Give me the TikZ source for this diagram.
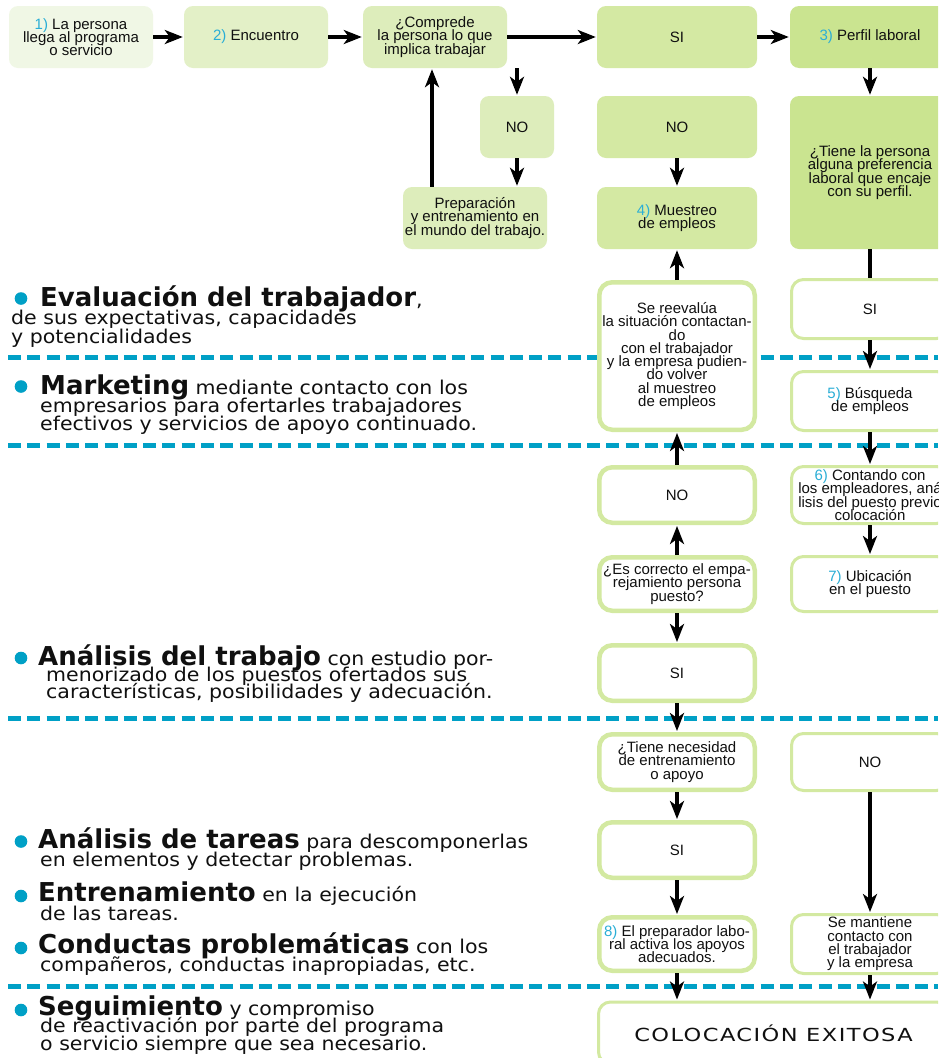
\documentclass[tikz,border=0pt]{standalone}
\usepackage{fontspec}
\setmainfont{Liberation Sans}
\newfontfamily\headfont{DejaVu Sans}
\newfontfamily\bodyfont[FakeStretch=1.08]{DejaVu Sans}
\newfontfamily\capsfont[FakeStretch=1.25,LetterSpace=8]{DejaVu Sans}
\usetikzlibrary{arrows.meta}
\definecolor{lite0}{HTML}{F0F7E5}
\definecolor{lite1}{HTML}{E3F0C7}
\definecolor{lite2}{HTML}{DDEDBB}
\definecolor{lite3}{HTML}{D4E9A3}
\definecolor{lite4}{HTML}{CAE490}
\definecolor{edge}{HTML}{D3E9A1}
\definecolor{dashblue}{HTML}{00A0C6}
\definecolor{numblue}{HTML}{2AAED6}
\definecolor{ink}{HTML}{101010}
\def\num#1{\textcolor{numblue}{#1}}
\def\hd#1{{\headfont\bfseries\fontsize{26pt}{26pt}\selectfont #1}}
\def\boxtxt{\fontsize{15pt}{13.3pt}\selectfont\lineskiplimit=-20pt}
\def\itemdot(#1){\fill[dashblue] (#1) circle (6.3);}
\tikzset{
	fbox/.style={rounded corners=9pt, inner sep=0pt, align=center, font=\boxtxt, text=ink, minimum height=62pt},
	obox/.style={fbox, fill=white, draw=edge, line width=4.5pt, rounded corners=13pt, minimum width=155.5pt},
	tbox/.style={fbox, fill=white, draw=edge, line width=3pt, rounded corners=12pt, minimum width=157pt},
	txt/.style={anchor=base west, inner sep=0pt, text=ink, font=\bodyfont\fontsize{19pt}{19pt}\selectfont},
	arr/.style={line width=3.2pt, -{Stealth[length=18pt,width=14pt,inset=5pt]}, shorten >=1pt},
	sepline/.style={dashblue, line width=5pt, dash pattern=on 13pt off 6.3pt}
}

\begin{document}
\begin{tikzpicture}[x=1pt, y=-1pt]
			%%%%% START %%%%%
			\useasboundingbox (0,0) rectangle (938,1058);
			\clip (0,0) rectangle (938,1058);
			\fill[white] (0,0) rectangle (938,1058);
			
			\draw[sepline] (8,357) -- (938,357);
			\draw[sepline] (8,445) -- (938,445);
			\draw[sepline] (8,718) -- (938,718);
			\draw[sepline] (8,986) -- (938,986);
			
			\node[fbox, fill=lite0, minimum width=144pt] (persona) at (81,37) {\num{1)} La persona\\llega al programa\\o servicio};
			\node[fbox, fill=lite1, minimum width=144pt] (encuentro) at (256,37) {\num{2)} Encuentro};
			\node[fbox, fill=lite2, minimum width=144pt] (comprende) at (435,37) {¿Comprede\\la persona lo que\\implica trabajar};
			\node[fbox, fill=lite3, minimum width=160pt] (siA) at (677,37) {SI};
			\node[fbox, fill=lite4, minimum width=160pt] (perfil) at (870,37) {\num{3)} Perfil laboral};
			
			\node[fbox, fill=lite2, minimum width=74pt] (noA) at (517,127) {NO};
			\node[fbox, fill=lite2, minimum width=144pt] (prepara) at (475,218) {Preparación\\y entrenamiento en\\el mundo del trabajo.};
			\node[fbox, fill=lite3, minimum width=160pt] (noB) at (677,127) {NO};
			\node[fbox, fill=lite3, minimum width=160pt] (muestreo) at (677,218) {\num{4)} Muestreo\\de empleos};
			\node[fbox, fill=lite4, minimum width=160pt, minimum height=153pt] (tiene) at (870,172.5) {¿Tiene la persona\\alguna preferencia\\laboral que encaje\\con su perfil.};
			
			\node[obox, minimum height=147.5pt] (reevalua) at (677,356) {Se reevalúa\\la situación contactan-\\do\\con el trabajador\\y la empresa pudien-\\do volver\\al muestreo\\de empleos};
			\node[obox, minimum height=55.5pt] (noC) at (677,495) {NO};
			\node[obox, minimum height=53.5pt] (correcto) at (677,584) {¿Es correcto el empa-\\rejamiento persona\\puesto?};
			\node[obox, minimum height=55.5pt] (siC) at (677,673) {SI};
			\node[obox, minimum height=55.5pt] (necesidad) at (677,762) {¿Tiene necesidad\\de entrenamiento\\o apoyo};
			\node[obox, minimum height=55.5pt] (siD) at (677,850) {SI};
			\node[obox, minimum height=53.5pt] (preparador) at (677,944) {\num{8)} El preparador labo-\\ral activa los apoyos\\adecuados.};
			
			\node[tbox, minimum height=59pt] (siB) at (870,309) {SI};
			\node[tbox, minimum height=59pt] (busqueda) at (870,401) {\num{5)} Búsqueda\\de empleos};
			\node[tbox, minimum height=57pt] (contando) at (870,495) {\num{6)} Contando con\\los empleadores, aná\\lisis del puesto previo\\colocación};
			\node[tbox, minimum height=55pt] (ubicacion) at (870,584) {\num{7)} Ubicación\\en el puesto};
			\node[tbox, minimum height=57pt] (noD) at (870,762) {NO};
			\node[tbox, minimum height=59pt] (mantiene) at (870,944) {Se mantiene\\contacto con\\el trabajador\\y la empresa};
			\node[tbox, minimum width=350pt, minimum height=62pt, font=\capsfont\fontsize{18pt}{18pt}\selectfont] (exito) at (773.5,1033) {COLOCACIÓN EXITOSA};
			
			\draw[arr] (persona) -- (encuentro);
			\draw[arr] (encuentro) -- (comprende);
			\draw[arr] (comprende) -- (siA);
			\draw[arr] (siA) -- (perfil);
			\draw[arr] (noA.north |- comprende.south) -- (noA);
			\draw[arr] (noA) -- (noA.south |- prepara.north);
			\draw[arr] ([xshift=-43pt]prepara.north) -- ([xshift=-43pt]prepara.north |- comprende.south);
			\draw[arr] (noB) -- (muestreo);
			\draw[arr] (perfil) -- (tiene);
			\draw[line width=3.2pt] (tiene) -- (siB);
			
			\draw[arr] (reevalua) -- (muestreo);
			\draw[arr] (noC) -- (reevalua);
			\draw[arr] (correcto) -- (noC);
			\draw[arr] (correcto) -- (siC);
			\draw[arr] (siC) -- (necesidad);
			\draw[arr] (necesidad) -- (siD);
			\draw[arr] (siD) -- (preparador);
			\draw[arr] (preparador) -- (preparador |- exito.north);
			
			\draw[arr] (siB) -- (busqueda);
			\draw[arr] (busqueda) -- (contando);
			\draw[arr] (contando) -- (ubicacion);
			\draw[arr] (noD) -- (mantiene);
			\draw[arr] (mantiene) -- (mantiene |- exito.north);
			
			\itemdot(21,298.5)
			\node[txt] (evalua) at (40,306) {\hd{Evaluación del trabajador},};
			\node[txt] (evaluaB) at (11,324.5) {de sus expectativas, capacidades};
			\node[txt] (evaluaC) at (11,343) {y potencialidades};
			
			\itemdot(21,386.5)
			\node[txt] (marketing) at (40,394) {\hd{Marketing} mediante contacto con los};
			\node[txt] (marketingB) at (40,412) {empresarios para ofertarles trabajadores};
			\node[txt] (marketingC) at (40,430) {efectivos y servicios de apoyo continuado.};
			
			\itemdot(21,658)
			\node[txt] (analisis) at (38,665) {\hd{Análisis del trabajo} con estudio por-};
			\node[txt] (analisisB) at (46,681) {menorizado de los puestos ofertados sus};
			\node[txt] (analisisC) at (46,698) {características, posibilidades y adecuación.};
			
			\itemdot(21,841.5)
			\node[txt] (tareas) at (38,848) {\hd{Análisis de tareas} para descomponerlas};
			\node[txt] (tareasB) at (40,866.5) {en elementos y detectar problemas.};
			
			\itemdot(21,896)
			\node[txt] (entrena) at (38,901.5) {\hd{Entrenamiento} en la ejecución};
			\node[txt] (entrenaB) at (40,920) {de las tareas.};
			
			\itemdot(21,948)
			\node[txt] (conductas) at (38,953) {\hd{Conductas problemáticas} con los};
			\node[txt] (conductasB) at (40,971.5) {compañeros, conductas inapropiadas, etc.};
			
			\itemdot(21,1010)
			\node[txt] (seguir) at (38,1015) {\hd{Seguimiento} y compromiso};
			\node[txt] (seguirB) at (40,1032) {de reactivación por parte del programa};
			\node[txt] (seguirC) at (40,1050) {o servicio siempre que sea necesario.};
			%%%%% END %%%%%
\end{tikzpicture}
\end{document}
